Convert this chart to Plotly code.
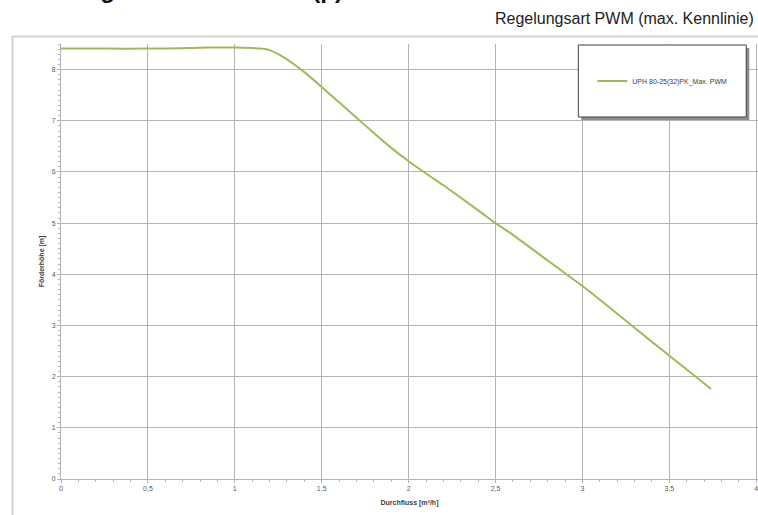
import plotly.graph_objects as go

# data
flow = [0.0, 0.25, 0.5, 0.75, 0.85, 1.0, 1.1, 1.15, 1.2, 1.25, 1.3, 1.35, 1.4, 1.5,
        1.6, 1.7, 1.8, 1.9, 2.0, 2.1, 2.2, 2.4, 2.5, 2.6, 2.8, 3.0, 3.2, 3.4, 3.5, 3.6, 3.74]
head = [8.41, 8.41, 8.41, 8.42, 8.43, 8.43, 8.42, 8.41, 8.38, 8.30, 8.20, 8.08, 7.95, 7.66,
        7.36, 7.06, 6.76, 6.47, 6.21, 5.97, 5.74, 5.25, 5.00, 4.77, 4.27, 3.77, 3.23, 2.68, 2.41, 2.14, 1.76]
series_name = "UPH 80-25(32)PK_Max. PWM"
x_ticks = [0, 0.5, 1, 1.5, 2, 2.5, 3, 3.5, 4]
x_tick_labels = ["0", "0,5", "1", "1,5", "2", "2,5", "3", "3,5", "4"]
y_ticks = [0, 1, 2, 3, 4, 5, 6, 7, 8]

W, H = 758, 515
XMAX = 4.01
L, T, B = 60.5, 44, 36
pw = 695.5 * XMAX / 4.0
R = W - L - pw
ph = H - T - B

def px(x):
    return (x - L) / pw

def py(y):
    return (H - B - y) / ph

fig = go.Figure()
fig.add_trace(go.Scatter(x=flow, y=head, mode="lines", name=series_name,
                         line=dict(color="#9bbb59", width=2, shape="spline", smoothing=0.6)))

grid = "#b4b4b4"
tickfont = dict(family="Liberation Sans, Arial", size=7, color="#595959")
fig.update_xaxes(range=[0, XMAX], tickvals=x_ticks, ticktext=x_tick_labels, showgrid=True,
                 gridcolor=grid, gridwidth=1, showline=True, linecolor=grid, linewidth=1,
                 ticks="outside", ticklen=3, tickcolor=grid, tickfont=tickfont, zeroline=False,
                 ticklabeloverflow="allow",
                 minor=dict(dtick=0.1, ticks="outside", ticklen=2, tickcolor=grid, showgrid=False),
                 title=dict(text="<b>Durchfluss [m³/h]</b>", font=dict(family="Liberation Sans, Arial", size=7, color="#404040"), standoff=8))
fig.update_yaxes(range=[0, 8.5], tickvals=y_ticks, showgrid=True, gridcolor=grid, gridwidth=1,
                 showline=True, linecolor=grid, linewidth=1, ticks="outside", ticklen=3,
                 tickcolor=grid, tickfont=tickfont, zeroline=False,
                 minor=dict(dtick=0.1, ticks="outside", ticklen=2, tickcolor=grid, showgrid=False),
                 title=dict(text="<b>Förderhöhe [m]</b>", font=dict(family="Liberation Sans, Arial", size=7, color="#404040"), standoff=6))

shapes = [
    # outer frame
    dict(type="rect", xref="paper", yref="paper", x0=px(12), x1=px(800), y0=py(560), y1=py(36.5),
         line=dict(color="#d4d4d4", width=2), fillcolor="rgba(0,0,0,0)", layer="below"),
    # legend shadow
    dict(type="rect", xref="paper", yref="paper", x0=px(581), x1=px(749), y0=py(120), y1=py(48),
         line=dict(width=0), fillcolor="#8c8c8c"),
    # legend box
    dict(type="rect", xref="paper", yref="paper", x0=px(578), x1=px(746), y0=py(117), y1=py(45),
         line=dict(color="#404040", width=1), fillcolor="white"),
]

fig.update_layout(
    width=W, height=H, margin=dict(l=L, r=R, t=T, b=B),
    plot_bgcolor="white", paper_bgcolor="white",
    shapes=shapes,
    showlegend=True,
    legend=dict(x=px(662), y=py(81), xanchor="center", yanchor="middle", bgcolor="rgba(0,0,0,0)",
                font=dict(family="Liberation Sans, Arial", size=7, color="#404040"), itemwidth=30),
    annotations=[
        dict(text="Regelungsart PWM (max. Kennlinie)", xref="paper", yref="paper",
             x=px(756), y=py(19), xanchor="right", yanchor="middle", showarrow=False,
             font=dict(family="Liberation Sans Narrow, Arial Narrow, Liberation Sans", size=16, color="#222222")),
        dict(text="<b>Leistung und Förderhöhe (p)</b>", xref="paper", yref="paper",
             x=px(12), y=py(-10), xanchor="left", yanchor="middle", showarrow=False,
             font=dict(family="Liberation Sans, Arial", size=24, color="#111111")),
    ],
)

fig.write_html("out.html", config={"displayModeBar": False},
               post_script="document.body.style.margin='0';document.body.style.overflow='hidden';")
